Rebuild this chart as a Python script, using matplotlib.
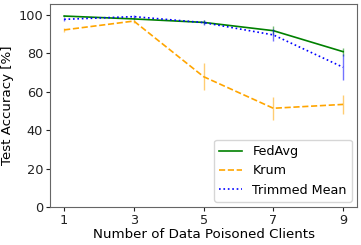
import matplotlib
matplotlib.use("Agg")
import matplotlib.pyplot as plt

clients = [1, 3, 5, 7, 9]
fedavg = [99.2, 97.7, 95.9, 91.6, 80.7]
fedavg_err = [0.6, 0.8, 1.0, 2.2, 2.0]
krum = [92.0, 96.6, 67.7, 51.3, 53.3]
krum_err = [1.2, 0.8, 7.0, 6.1, 4.8]
trimmed = [97.5, 98.9, 95.8, 89.4, 72.6]
trimmed_err = [0.8, 0.8, 1.5, 3.2, 6.7]

fig, ax = plt.subplots(figsize=(3.61, 2.45), dpi=100)
series = [
    (fedavg, fedavg_err, "green", "-", "FedAvg"),
    (krum, krum_err, "orange", "--", "Krum"),
    (trimmed, trimmed_err, "blue", ":", "Trimmed Mean"),
]
for vals, errs, col, ls, lab in series:
    ax.errorbar(clients, vals, yerr=errs, fmt="none", ecolor=col, alpha=0.55,
                elinewidth=1.0)
    ax.plot(clients, vals, color=col, linestyle=ls, linewidth=1.2, label=lab)

ax.set_xticks(clients)
ax.set_ylim(0, 105.5)
ax.set_yticks([0, 20, 40, 60, 80, 100])
ax.set_xlabel("Number of Data Poisoned Clients", fontsize=9.6, labelpad=1)
ax.set_ylabel("Test Accuracy [%]", fontsize=9.6, labelpad=3)
ax.tick_params(labelsize=9.3, colors="#222222", length=3, pad=2)
for s in ax.spines.values():
    s.set_color("#666666")
ax.legend(loc="lower right", fontsize=9.2, handlelength=1.8, borderaxespad=0.4)
fig.subplots_adjust(left=0.139, right=0.989, top=0.984, bottom=0.155)
fig.savefig("out.png", dpi=100)
